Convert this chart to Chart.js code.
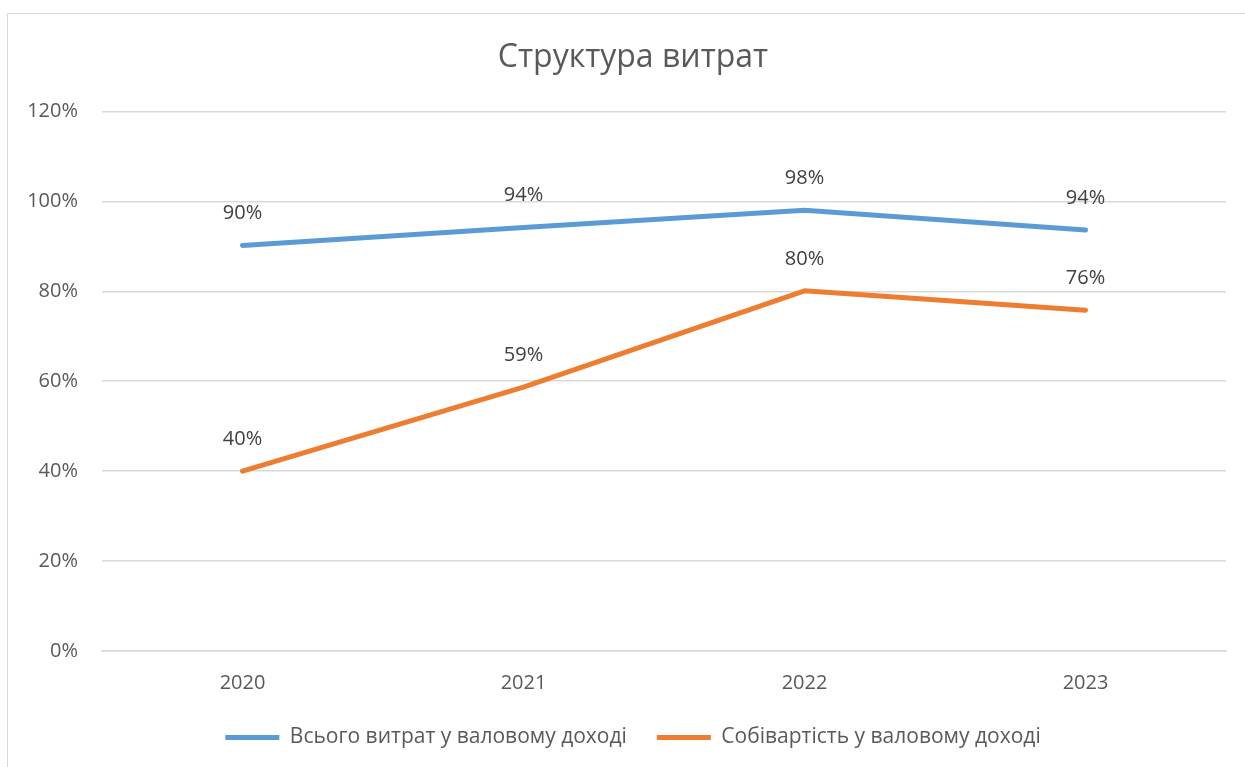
<html>
    <head>
        <meta charset="utf-8">
        <title>Структура витрат</title>
        <script src="https://cdn.jsdelivr.net/npm/chart.js@4/dist/chart.umd.min.js"></script>
        <style>
            body { margin: 0; overflow: hidden; background: #fff; }
            #frame { position: absolute; left: 7px; top: 13px; border: 1px solid #d9d9d9; }
        </style>
    </head>
    <body>
        <div id="frame">
            <canvas id="line-chart" width="1252" height="780"></canvas>
        </div>
        <script>
            const years = ['2020', '2021', '2022', '2023'];
            const totalCosts = [0.902, 0.942, 0.980, 0.936];   // Всього витрат у валовому доході
            const costPrice = [0.400, 0.587, 0.801, 0.758];    // Собівартість у валовому доході
            const yTicks = [0, 0.2, 0.4, 0.6, 0.8, 1.0, 1.2];

            const font = "'Open Sans', 'DejaVu Sans', sans-serif";
            const pct = v => Math.round(v * 100) + '%';

            // simple value labels above each point
            const valueLabels = {
                id: 'valueLabels',
                afterDatasetsDraw(chart) {
                    const ctx = chart.ctx;
                    ctx.save();
                    ctx.font = '20px ' + font;
                    ctx.fillStyle = '#404040';
                    ctx.textAlign = 'center';
                    ctx.textBaseline = 'middle';
                    chart.data.datasets.forEach((ds, i) => {
                        chart.getDatasetMeta(i).data.forEach((pt, j) => {
                            ctx.fillText(pct(ds.data[j]), pt.x, pt.y - 32);
                        });
                    });
                    ctx.restore();
                }
            };

            new Chart(document.getElementById('line-chart'), {
                type: 'line',
                data: {
                    labels: years,
                    datasets: [
                        {
                            label: 'Всього витрат у валовому доході',
                            data: totalCosts,
                            borderColor: '#5b9bd5',
                            backgroundColor: '#5b9bd5',
                            borderWidth: 5,
                            borderCapStyle: 'round',
                            borderJoinStyle: 'round',
                            pointRadius: 0,
                            fill: false
                        },
                        {
                            label: 'Собівартість у валовому доході',
                            data: costPrice,
                            borderColor: '#ed7d31',
                            backgroundColor: '#ed7d31',
                            borderWidth: 5,
                            borderCapStyle: 'round',
                            borderJoinStyle: 'round',
                            pointRadius: 0,
                            fill: false
                        }
                    ]
                },
                options: {
                    responsive: false,
                    animation: false,
                    layout: { padding: { top: 15, left: 18, right: 20, bottom: 36 } },
                    plugins: {
                        title: {
                            display: true,
                            text: 'Структура витрат',
                            color: '#595959',
                            font: { family: font, size: 32, weight: 'normal' },
                            padding: { top: 10, bottom: 34 }
                        },
                        legend: {
                            position: 'bottom',
                            labels: {
                                usePointStyle: true,
                                pointStyle: 'line',
                                pointStyleWidth: 54,
                                color: '#595959',
                                font: { family: font, size: 21 },
                                padding: 30
                            }
                        },
                        tooltip: { enabled: false }
                    },
                    scales: {
                        x: {
                            offset: true,
                            afterFit: scale => { scale.height = 46; },
                            grid: { display: false, drawTicks: false },
                            border: { display: true, color: '#d9d9d9', width: 1.5 },
                            ticks: { color: '#595959', font: { family: font, size: 20 }, padding: 20 }
                        },
                        y: {
                            min: 0,
                            max: 1.2,
                            afterBuildTicks: scale => { scale.ticks = yTicks.map(v => ({ value: v })); },
                            afterFit: scale => { scale.width = 76; },
                            grid: { color: '#d9d9d9', lineWidth: 1.5, drawTicks: false },
                            border: { display: false },
                            ticks: {
                                color: '#595959',
                                font: { family: font, size: 20 },
                                padding: 24,
                                callback: v => pct(v)
                            }
                        },
                        // empty right-hand spacer so the title and legend sit centred like the original
                        spacer: {
                            position: 'right',
                            afterFit: scale => { scale.width = 14; },
                            grid: { display: false, drawTicks: false },
                            border: { display: false },
                            ticks: { display: false }
                        }
                    }
                },
                plugins: [valueLabels]
            });
        </script>
    </body>
</html>
